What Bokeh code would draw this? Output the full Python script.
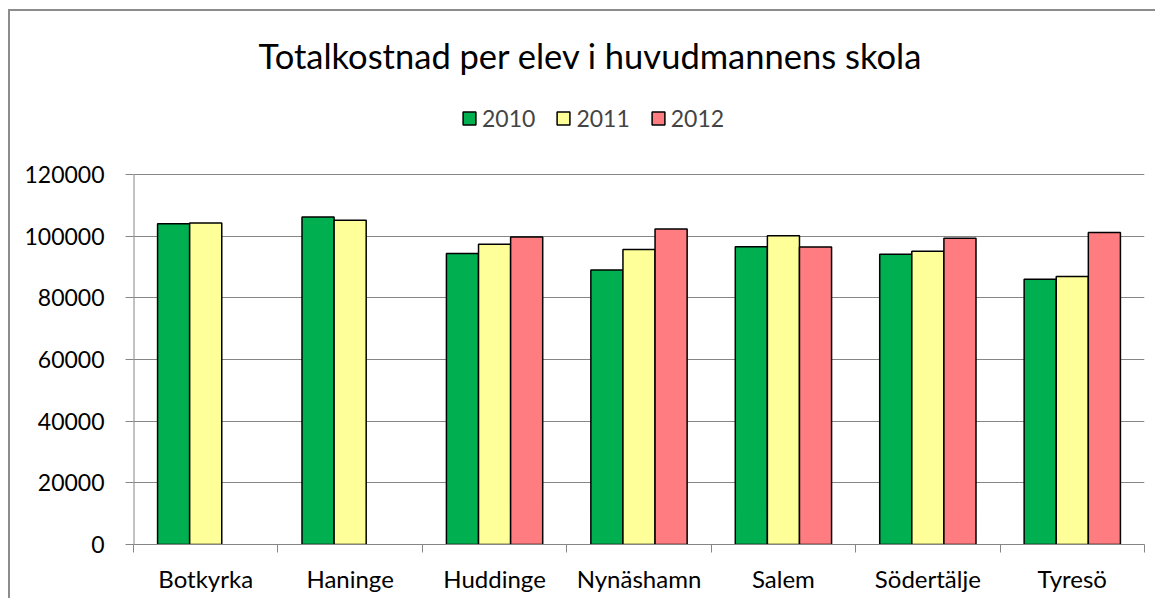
import numpy as np
from bokeh.plotting import figure
from bokeh.models import (ColumnDataSource, FixedTicker, Legend, LegendItem, Title,
                          Range1d, NumeralTickFormatter)
from bokeh.transform import dodge
from bokeh.embed import file_html
from bokeh.resources import INLINE

categories = ["Botkyrka", "Haninge", "Huddinge", "Nynäshamn", "Salem", "Södertälje", "Tyresö"]
years = ["2010", "2011", "2012"]
v2010 = [104000, 106200, 94400, 89000, 96600, 94100, 86000]
v2011 = [104300, 105200, 97400, 95700, 100100, 95100, 86900]
v2012 = [np.nan, np.nan, 99700, 102300, 96500, 99300, 101200]
y_ticks = [0, 20000, 40000, 60000, 80000, 100000, 120000]
colors = ["#00B050", "#FFFF99", "#FF7C80"]

pos = [i + 0.5 for i in range(len(categories))]
bounds = list(range(len(categories) + 1))
src = ColumnDataSource(dict(pos=pos, y2010=v2010, y2011=v2011,
                            y2012=np.array(v2012, dtype=float)))

FONT = "Lato"
GRAY = "#868686"

# the frame is extended upward (headroom for the legend); axis height is 370 px
# for 0..120000 and the frame is 448 px tall
y_top = y_ticks[-1] * 448 / 370

p = figure(width=1147, height=589, output_backend="svg", toolbar_location=None,
           x_range=Range1d(bounds[0], bounds[-1]), y_range=Range1d(0, y_top),
           min_border_left=123, min_border_right=13, min_border_bottom=56,
           min_border_top=85)
p.styles = {"margin-left": "8px", "margin-top": "9px",
            "border-left": "2px solid #8c8c8c", "border-top": "2px solid #8c8c8c"}
p.outline_line_color = None
p.background_fill_color = "white"

bw = 1 / 4.5
renderers = []
for k, (yr, col) in enumerate(zip(years, colors)):
    r = p.vbar(x=dodge("pos", (k - 1) * bw, range=p.x_range), top="y" + yr, width=bw,
               source=src, fill_color=col, line_color="black", line_width=1.5)
    renderers.append(r)

# y axis line only over the tick span
p.segment(x0=[bounds[0]], y0=[y_ticks[0]], x1=[bounds[0]], y1=[y_ticks[-1]],
          line_color=GRAY, line_width=2)

# axes
p.xgrid.grid_line_color = None
p.ygrid.grid_line_color = GRAY
p.ygrid.grid_line_width = 1
p.yaxis.ticker = FixedTicker(ticks=y_ticks)
p.yaxis.formatter = NumeralTickFormatter(format="0")
p.yaxis.axis_line_color = None
p.yaxis.major_tick_line_color = GRAY
p.yaxis.major_tick_out = 8
p.yaxis.major_tick_in = 0
p.yaxis.minor_tick_line_color = None
p.yaxis.major_label_standoff = 21
p.yaxis.major_label_text_font = FONT
p.yaxis.major_label_text_font_size = "23px"
p.yaxis.major_label_text_color = "black"

p.xaxis.ticker = FixedTicker(ticks=pos, minor_ticks=bounds)
p.xaxis.major_label_overrides = {x: c for x, c in zip(pos, categories)}
p.xaxis.axis_line_color = GRAY
p.xaxis.major_tick_line_color = None
p.xaxis.major_tick_out = 0
p.xaxis.major_tick_in = 0
p.xaxis.minor_tick_line_color = GRAY
p.xaxis.minor_tick_out = 8
p.xaxis.minor_tick_in = 0
p.xaxis.major_label_standoff = 11
p.xaxis.major_label_text_font = FONT
p.xaxis.major_label_text_font_size = "24px"
p.xaxis.major_label_text_color = "black"

# title
p.title = Title(text="Totalkostnad per elev i huvudmannens skola", align="left", offset=125,
                vertical_align="middle",
                text_font=FONT, text_font_size="34.5px", text_font_style="normal",
                text_color="black", standoff=40)

legend = Legend(items=[LegendItem(label=yr, renderers=[r]) for yr, r in zip(years, renderers)],
                orientation="horizontal", location=(328, 412),
                glyph_width=16, glyph_height=16, label_standoff=5, spacing=20,
                label_text_font=FONT, label_text_font_size="23px",
                padding=0, margin=0, border_line_color=None, background_fill_alpha=0)
p.add_layout(legend, "center")

open("out.html", "w").write(file_html(p, INLINE))
